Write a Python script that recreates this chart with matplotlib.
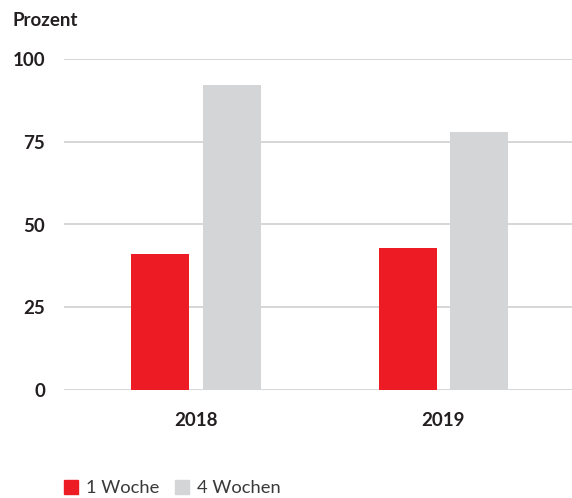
import matplotlib
matplotlib.use("Agg")
import matplotlib.pyplot as plt
from matplotlib.lines import Line2D
import numpy as np

plt.rcParams['font.family'] = ['Lato', 'DejaVu Sans']

categories = ["2018", "2019"]
series_names = ["1 Woche", "4 Wochen"]
woche1 = [41, 43]
wochen4 = [92, 78]
colors = ["#ED1C24", "#D4D5D7"]
yticks = [0, 25, 50, 75, 100]

fig = plt.figure(figsize=(5.72, 4.98), dpi=100)
ax = fig.add_axes([64/572, 108/498, 1 - 64/572, 331/498])

x = np.arange(len(categories))
w = 0.235
off = 0.145
ax.bar(x - off, woche1, width=w, color=colors[0], zorder=3)
ax.bar(x + off, wochen4, width=w, color=colors[1], zorder=3)

ax.set_xlim(-0.535, 1.52)
ax.set_ylim(0, 100)
ax.set_yticks(yticks)
ax.set_yticklabels([str(t) for t in yticks])
ax.set_xticks(x)
ax.set_xticklabels(categories)
for s in ax.spines.values():
    s.set_visible(False)
ax.grid(axis='y', color='#D0D0D0', linewidth=1.2, zorder=0)
ax.set_axisbelow(True)
ax.tick_params(axis='y', length=0, pad=13.5, labelsize=13.5, labelcolor='#231F20')
ax.tick_params(axis='x', length=0, pad=16, labelsize=13.5, labelcolor='#231F20')
for lbl in ax.get_yticklabels() + ax.get_xticklabels():
    lbl.set_fontweight('bold')

fig.text(13/572, 1 - 20/498, "Prozent", fontsize=13.5, fontweight='bold',
         color='#231F20', ha='left', va='center')

handles = [Line2D([], [], linestyle='none', marker='s', markersize=10.5,
                  markerfacecolor=c, markeredgecolor=c) for c in colors]
fig.legend(handles, series_names, loc='center left',
           bbox_to_anchor=(45/572, 1 - 488/498), ncol=2, frameon=False,
           fontsize=13.2, handletextpad=0.35, columnspacing=0.7,
           labelcolor='#3A3A3A', handlelength=1.0)

fig.savefig("out.png", dpi=100)
